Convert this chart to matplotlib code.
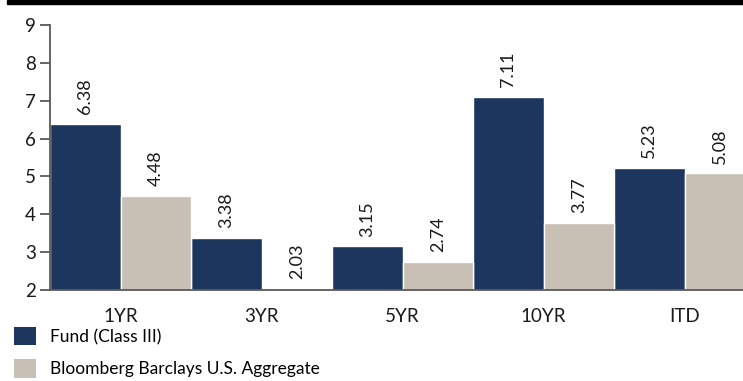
import matplotlib
matplotlib.use("Agg")
import matplotlib.pyplot as plt
import numpy as np
from matplotlib.patches import Rectangle, Patch

categories = ["1YR", "3YR", "5YR", "10YR", "ITD"]
fund = [6.38, 3.38, 3.15, 7.11, 5.23]
bench = [4.48, 2.03, 2.74, 3.77, 5.08]
labels = ["Fund (Class III)", "Bloomberg Barclays U.S. Aggregate"]
yticks = [2, 3, 4, 5, 6, 7, 8, 9]

navy = "#1c365e"
beige = "#c8bfb5"
gray = "#595959"

plt.rcParams['font.family'] = ['Lato', 'DejaVu Sans']

W, H = 743, 381
fig = plt.figure(figsize=(W / 100, H / 100), dpi=100)
ax = fig.add_axes([50 / W, 1 - 290 / H, 705 / W, 265 / H])

x = np.arange(len(categories))
bw = 0.5
ax.bar(x - bw / 2, [v - 2 for v in fund], bw, bottom=2, color=navy,
       edgecolor="white", linewidth=1.0, label=labels[0])
ax.bar(x + bw / 2, [v - 2 for v in bench], bw, bottom=2, color=beige,
       edgecolor="white", linewidth=1.0, label=labels[1])

for xs, vals in ((x - bw / 2, fund), (x + bw / 2, bench)):
    for xi, v in zip(xs, vals):
        ax.annotate(f"{v:.2f}", (xi, v), xytext=(0, 7), textcoords="offset points",
                    rotation=90, ha="center", va="bottom", fontsize=13, color="#1a1a1a")

ax.set_xlim(-0.5, len(categories) - 0.5)
ax.set_ylim(2, 9)
ax.set_yticks(yticks)
ax.set_xticks(x)
ax.set_xticklabels(categories)
ax.tick_params(axis="x", length=0, pad=13, labelsize=13.5, colors="#1a1a1a")
ax.tick_params(axis="y", length=7, width=1.3, color=gray, labelsize=13.5,
               labelcolor="#1a1a1a", pad=3)
for s in ("top", "right"):
    ax.spines[s].set_visible(False)
for s in ("left", "bottom"):
    ax.spines[s].set_color(gray)
    ax.spines[s].set_linewidth(1.3)

# top black band
fig.patches.append(Rectangle((7 / W, 1 - 3.5 / H), 1, 3.5 / H, transform=fig.transFigure,
                             color="black", zorder=5))

handles = [Patch(facecolor=navy, edgecolor="none"), Patch(facecolor=beige, edgecolor="none")]
fig.legend(handles, labels, loc="upper left", bbox_to_anchor=(14 / W, 1 - 327 / H),
           frameon=False, fontsize=12.5, handlelength=1.25, handleheight=1.25,
           handletextpad=0.85, labelspacing=0.8, borderaxespad=0, borderpad=0)

fig.savefig("out.png", dpi=100)
